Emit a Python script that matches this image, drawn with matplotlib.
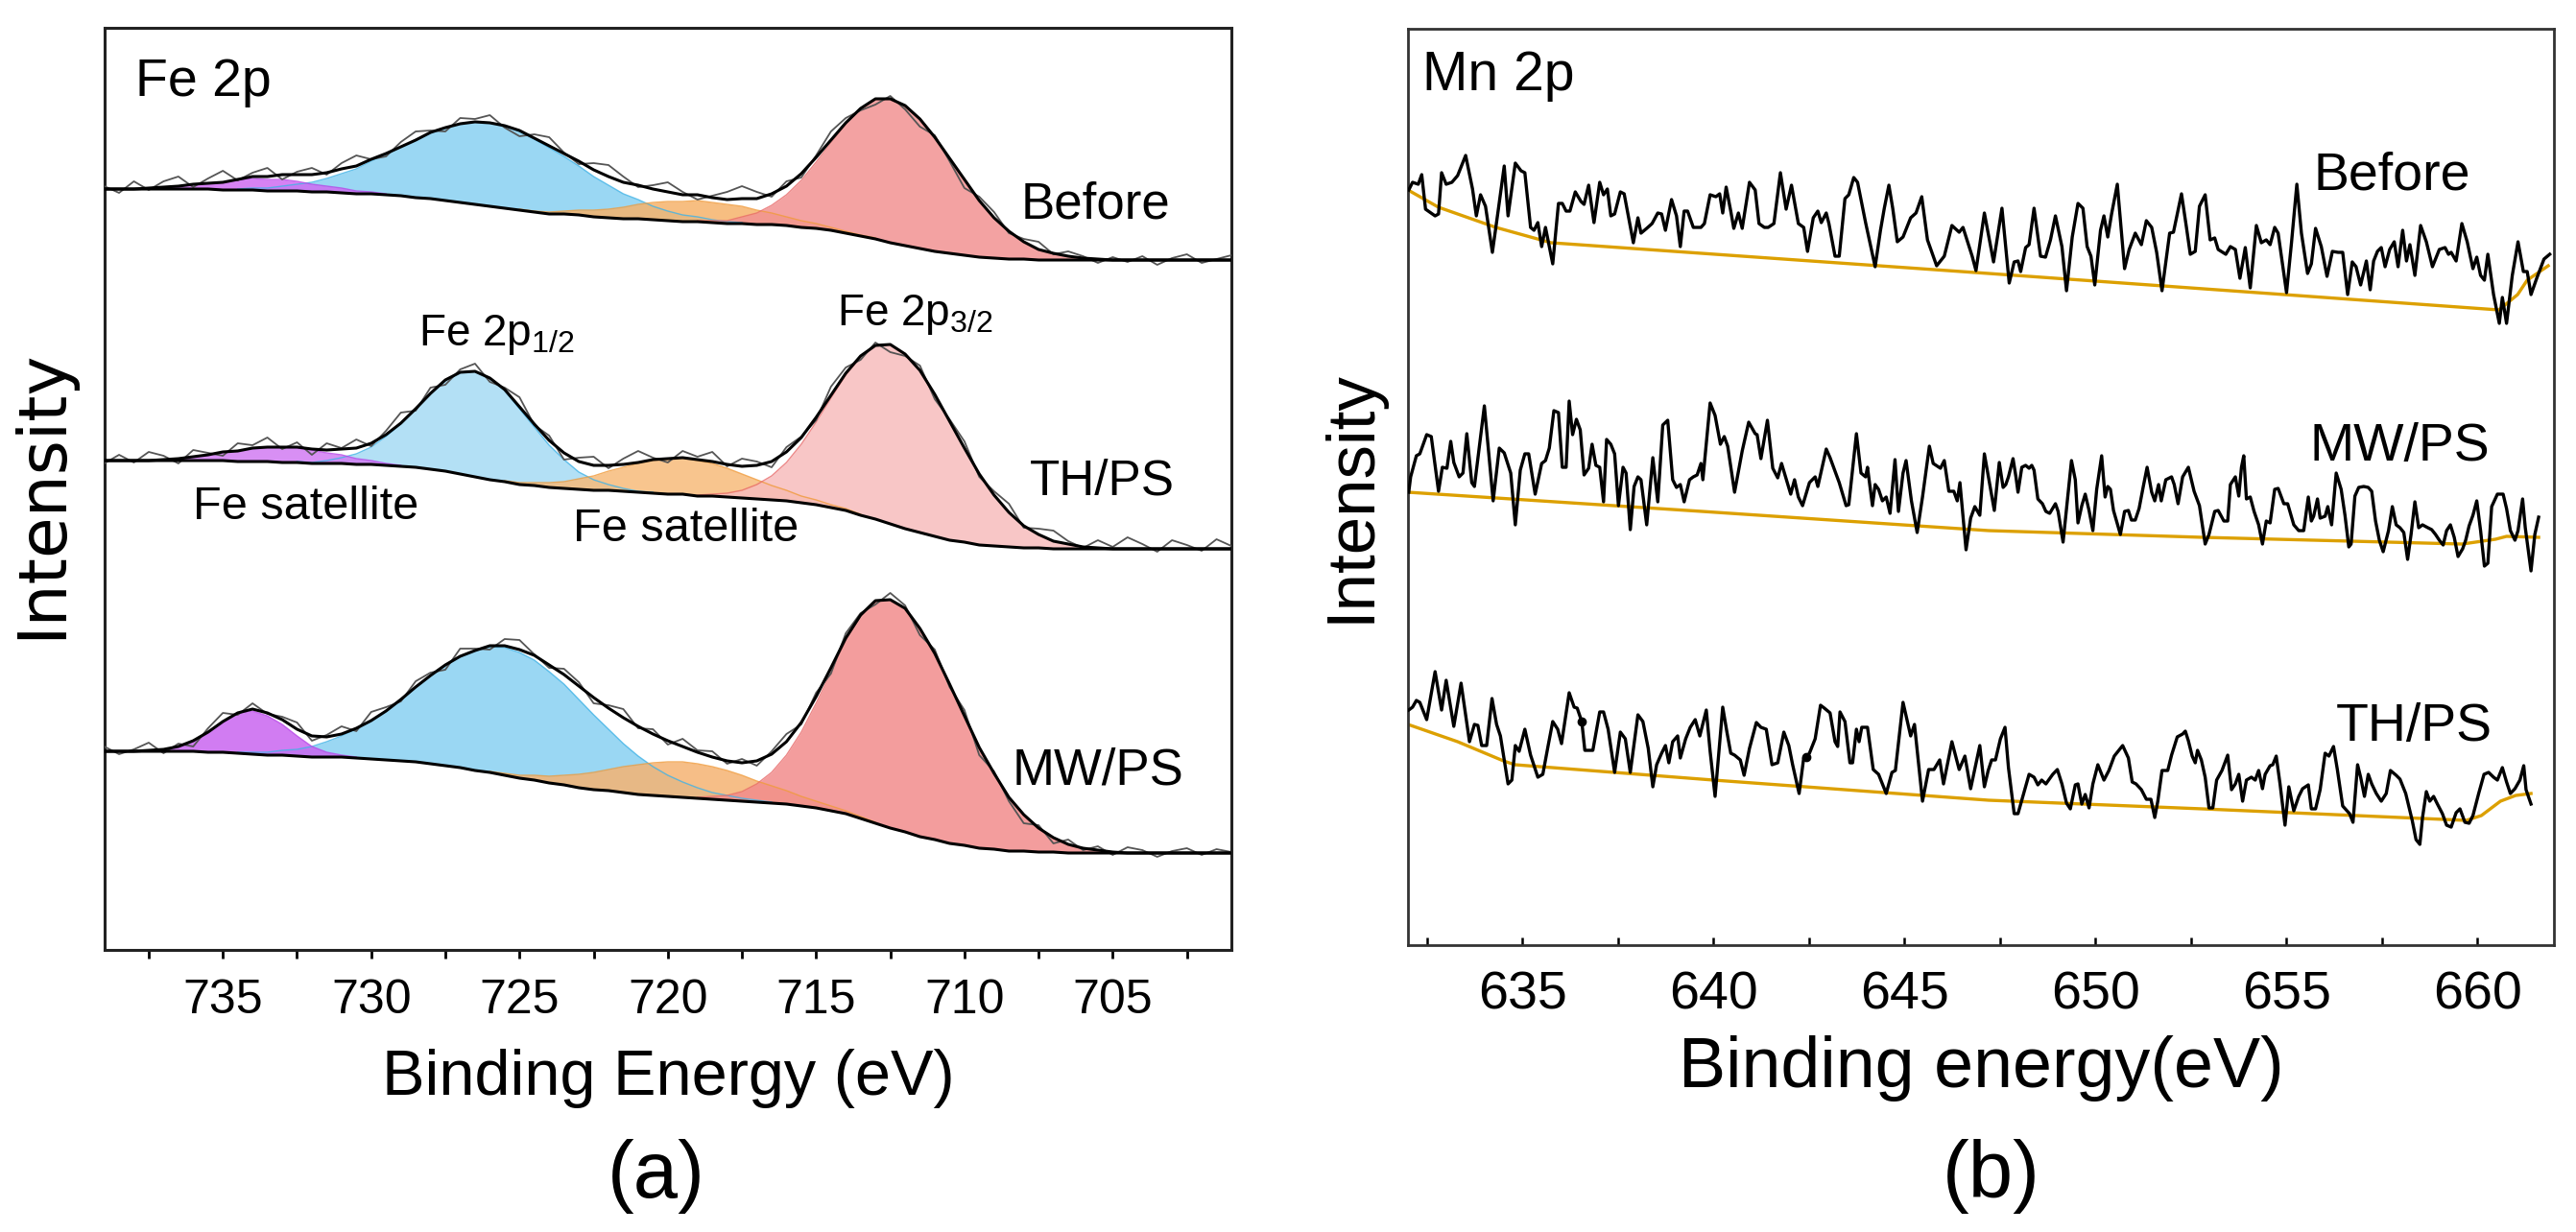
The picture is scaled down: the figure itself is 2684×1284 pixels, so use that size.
import matplotlib.pyplot as plt
import numpy as np

plt.rcParams['font.family'] = ['Liberation Sans', 'DejaVu Sans']
plt.rcParams['mathtext.default'] = 'regular'

W, H = 2684, 1284

# ---------------- panel (a): Fe 2p, values every 0.5 eV from 739 to 701 eV
fe_start, fe_step, fe_n = 739.0, 0.5, 77

# Shirley backgrounds (739 -> 701 eV)
before_bg = [793, 793, 793, 793, 793, 793, 793, 793, 792, 792,
             792, 791, 791, 791, 790, 790, 789, 788, 788, 787,
             786, 784, 783, 781, 779, 777, 775, 773, 771, 769,
             767, 767, 766, 764, 763, 762, 762, 761, 760, 759,
             759, 758, 757, 757, 756, 756, 755, 753, 752, 750,
             747, 744, 741, 737, 734, 731, 728, 726, 724, 722,
             721, 720, 720, 719, 719, 719, 719, 719, 719, 719,
             719, 719, 719, 719, 719, 719, 719]
th_bg = [510, 510, 510, 510, 510, 510, 510, 510, 510, 509,
         509, 509, 508, 508, 507, 507, 507, 506, 506, 505,
         504, 503, 501, 499, 496, 493, 490, 488, 485, 484,
         482, 481, 480, 479, 479, 478, 477, 476, 475, 475,
         473, 473, 472, 471, 470, 469, 468, 466, 464, 461,
         458, 453, 449, 444, 439, 435, 431, 427, 425, 422,
         421, 420, 419, 419, 418, 418, 418, 418, 418, 418,
         418, 418, 418, 418, 418, 418, 418]
mw_bg = [207, 207, 207, 207, 207, 207, 207, 206, 206, 205,
         204, 203, 203, 202, 201, 201, 201, 200, 199, 198,
         197, 196, 194, 192, 190, 187, 185, 182, 179, 177,
         174, 172, 169, 167, 166, 164, 162, 161, 160, 159,
         158, 157, 156, 155, 154, 153, 152, 150, 148, 145,
         142, 137, 132, 127, 123, 118, 115, 111, 109, 106,
         105, 103, 103, 102, 102, 101, 101, 101, 101, 101,
         101, 101, 101, 101, 101, 101, 101]

# fitted components above background: (first energy, heights every 0.5 eV downwards)
before_sat1 = (737.5, [1, 2, 3, 5, 6, 8, 10, 12, 12, 12, 10, 8, 6, 5, 3, 2, 1])
before_p12 = (734.5, [1, 2, 3, 5, 7, 10, 14, 20, 26, 34, 42, 51, 60, 69, 76, 82, 86, 87,
                      86, 82, 76, 69, 60, 51, 42, 34, 26, 20, 14, 10, 7, 5, 3, 2, 1])
before_sat2 = (725.0, [1, 1, 2, 3, 5, 7, 9, 12, 15, 18, 20, 21, 22, 21, 20, 18, 15, 12,
                       9, 7, 5, 3, 2, 1, 1])
before_p32 = (719.0, [1, 2, 3, 7, 12, 20, 32, 49, 69, 91, 113, 132, 145, 150, 146, 135,
                      119, 99, 79, 59, 42, 29, 18, 11, 7, 4, 2, 1])

th_sat1 = (737.0, [1, 2, 4, 6, 9, 11, 14, 15, 16, 15, 14, 11, 9, 6, 4, 2, 1])
th_p12 = (732.5, [1, 1, 3, 6, 11, 18, 30, 44, 61, 79, 95, 106, 110, 106, 95, 79, 61, 44,
                  30, 18, 11, 6, 3, 1, 1])
th_sat2 = (725.5, [1, 2, 3, 5, 7, 11, 15, 20, 25, 30, 34, 37, 38, 37, 34, 30, 25, 20, 15,
                   11, 7, 5, 3, 2, 1])
th_p32 = (719.0, [1, 2, 4, 8, 15, 25, 40, 61, 86, 114, 141, 165, 181, 187, 182, 169, 148,
                  124, 98, 74, 53, 36, 23, 14, 8, 5, 2, 1])

mw_sat1 = (737.5, [1, 2, 5, 11, 21, 32, 41, 45, 41, 32, 21, 11, 5, 2, 1])
mw_p12 = (734.5, [1, 2, 3, 5, 7, 11, 16, 22, 30, 40, 51, 64, 78, 92, 105, 116, 125, 131,
                  133, 131, 125, 116, 105, 92, 78, 64, 51, 40, 30, 22, 16, 11, 7, 5, 3, 2, 1])
mw_sat2 = (726.0, [1, 2, 3, 5, 7, 10, 14, 18, 22, 27, 31, 34, 36, 37, 36, 34, 31, 27, 22,
                   18, 14, 10, 7, 5, 3, 2, 1])
mw_p32 = (719.0, [1, 3, 5, 10, 19, 32, 51, 77, 109, 144, 180, 210, 231, 238, 233, 217, 194,
                  166, 135, 105, 79, 56, 38, 25, 15, 9, 5, 3, 1])

# raw counts minus fit envelope (739 -> 701 eV)
before_resid = [3, -4, 8, -2, 6, 10, -3, 5, 12, -1, 4, 9, -5, 3, 7, -2, 6, 11, 0, -3,
                5, 9, 2, -4, 6, 3, 8, -2, -6, 4, 9, 1, -3, 7, 12, 6, -2, 4, 10, 3,
                -5, 2, 8, 13, 7, -3, 5, -4, 2, 9, 5, -2, -6, 3, -4, -8, 2, -3, -9, 4,
                6, -2, 3, 8, -1, 5, 2, -4, 3, -2, 4, -5, 2, 6, -3, 1, 5]
th_resid = [-3, 6, -2, 9, 4, -5, 7, 2, -4, 8, 3, 10, -2, 5, -6, 7, 1, 9, -3, 4,
            11, -2, 6, -5, 3, 8, -4, 2, 10, -1, 5, -7, 4, 9, -3, 6, 12, 2, -4, 7,
            3, 10, -2, 8, 4, -6, 5, 1, -3, 9, 6, -4, 3, -8, -2, 5, -5, 2, 7, -3,
            4, 9, -2, 6, 11, 3, -1, 8, 2, 12, 5, -3, 9, 4, -2, 10, 3]
mw_resid = [5, -3, 2, 8, -4, 3, -6, 4, 9, -2, 6, -1, 3, 7, -5, 2, 8, -3, 9, 4,
            -2, 6, 3, -5, 8, 2, -4, 7, 10, 1, -3, 6, 4, -6, 3, 9, -2, 5, -4, 8,
            2, 6, -3, 4, -5, 3, 8, -2, 4, -6, 5, 2, -4, 7, 3, -7, 4, -3, 6, -8,
            2, -4, -9, 3, -6, 5, -2, 4, -3, 6, 3, -4, 2, 5, -2, 4, 1]

# ---------------- panel (b): Mn 2p raw traces (eV, counts) and backgrounds
mn_before = [
    (632.02, 787), (632.12, 795), (632.27, 793), (632.36, 803), (632.46, 767), (632.71, 760),
    (632.80, 762), (632.88, 805), (633.00, 793), (633.15, 795), (633.30, 802), (633.51, 823),
    (633.69, 788), (633.79, 760), (633.90, 782), (634.03, 770), (634.21, 722), (634.37, 768),
    (634.52, 812), (634.62, 760), (634.81, 815), (634.96, 807), (635.06, 805), (635.21, 748),
    (635.30, 745), (635.40, 753), (635.50, 728), (635.60, 748), (635.79, 710), (635.94, 773),
    (636.04, 773), (636.14, 765), (636.24, 765), (636.38, 785), (636.53, 775), (636.61, 772),
    (636.73, 792), (636.87, 753), (637.02, 795), (637.12, 782), (637.22, 788), (637.31, 760),
    (637.41, 762), (637.56, 785), (637.66, 783), (637.90, 732), (638.02, 758), (638.10, 742),
    (638.25, 747), (638.39, 752), (638.54, 763), (638.64, 762), (638.74, 745), (638.90, 777),
    (639.03, 760), (639.13, 728), (639.23, 765), (639.32, 765), (639.47, 748), (639.67, 748),
    (639.76, 752), (639.91, 782), (640.06, 780), (640.16, 783), (640.24, 763), (640.33, 790),
    (640.45, 765), (640.53, 747), (640.65, 763), (640.75, 747), (640.94, 795), (641.09, 787),
    (641.19, 752), (641.33, 748), (641.43, 748), (641.58, 752), (641.75, 805), (641.90, 767),
    (642.04, 792), (642.22, 752), (642.36, 748), (642.46, 723), (642.61, 758), (642.73, 765),
    (642.82, 753), (642.95, 763), (643.02, 752), (643.18, 718), (643.29, 718), (643.44, 778),
    (643.54, 782), (643.67, 800), (643.77, 795), (643.98, 753), (644.23, 707), (644.37, 745),
    (644.47, 768), (644.59, 792), (644.69, 768), (644.81, 733), (644.96, 738), (645.16, 758),
    (645.30, 763), (645.45, 780), (645.60, 735), (645.84, 708), (646.04, 718), (646.24, 750),
    (646.43, 743), (646.53, 748), (646.61, 738), (646.77, 718), (646.87, 703), (647.09, 763),
    (647.33, 712), (647.55, 768), (647.74, 690), (647.87, 712), (647.97, 713), (648.04, 702),
    (648.17, 727), (648.26, 730), (648.39, 768), (648.56, 718), (648.69, 717), (648.82, 735),
    (648.95, 760), (649.12, 728), (649.24, 682), (649.39, 738), (649.54, 773), (649.67, 768),
    (649.78, 728), (649.88, 718), (649.98, 688), (650.13, 745), (650.22, 760), (650.32, 738),
    (650.42, 762), (650.57, 793), (650.76, 705), (650.88, 725), (651.04, 742), (651.20, 730),
    (651.33, 755), (651.47, 748), (651.60, 722), (651.74, 682), (651.94, 742), (652.04, 743),
    (652.25, 783), (652.38, 748), (652.48, 720), (652.61, 723), (652.72, 770), (652.87, 782),
    (653.00, 735), (653.12, 737), (653.21, 725), (653.41, 720), (653.53, 728), (653.66, 725),
    (653.78, 695), (653.92, 727), (654.05, 685), (654.21, 750), (654.34, 732), (654.47, 735),
    (654.57, 730), (654.69, 748), (654.78, 742), (655.00, 680), (655.13, 732), (655.27, 793),
    (655.39, 742), (655.55, 700), (655.65, 710), (655.76, 747), (655.91, 728), (656.06, 697),
    (656.20, 723), (656.35, 722), (656.47, 722), (656.60, 678), (656.72, 712), (656.82, 707),
    (656.94, 688), (657.09, 713), (657.19, 683), (657.28, 713), (657.38, 723), (657.48, 727),
    (657.58, 707), (657.70, 725), (657.82, 733), (657.92, 707), (658.04, 745), (658.14, 713),
    (658.23, 730), (658.36, 698), (658.51, 750), (658.66, 733), (658.82, 707), (659.00, 725),
    (659.15, 727), (659.24, 720), (659.31, 722), (659.44, 713), (659.59, 752), (659.73, 733),
    (659.88, 705), (659.98, 717), (660.08, 698), (660.18, 693), (660.27, 720), (660.42, 678),
    (660.57, 648), (660.65, 675), (660.76, 648), (660.91, 698), (661.06, 733), (661.20, 702),
    (661.30, 702), (661.40, 678), (661.55, 695), (661.74, 715), (661.89, 720)]
mn_before_bg = [(632.0, 787), (632.8, 769), (634.3, 748), (635.75, 732), (647.2, 700),
                (660.56, 662), (661.05, 678), (661.3, 693), (661.85, 708)]

mn_mw = [
    (632.02, 472), (632.07, 488), (632.22, 510), (632.31, 512), (632.49, 532), (632.61, 530),
    (632.80, 473), (632.90, 498), (633.02, 497), (633.12, 525), (633.20, 503), (633.34, 488),
    (633.44, 492), (633.54, 533), (633.67, 482), (633.74, 478), (634.00, 562), (634.23, 463),
    (634.39, 518), (634.52, 513), (634.69, 492), (634.81, 438), (634.94, 495), (635.06, 512),
    (635.16, 512), (635.33, 470), (635.50, 502), (635.60, 505), (635.70, 518), (635.82, 557),
    (635.94, 555), (636.04, 498), (636.14, 498), (636.22, 567), (636.31, 532), (636.41, 548),
    (636.51, 537), (636.61, 490), (636.73, 497), (636.82, 522), (636.92, 500), (637.02, 498),
    (637.12, 462), (637.20, 527), (637.31, 522), (637.41, 512), (637.51, 458), (637.63, 498),
    (637.71, 492), (637.82, 433), (637.92, 478), (638.02, 488), (638.10, 485), (638.25, 438),
    (638.41, 508), (638.54, 462), (638.67, 542), (638.80, 547), (638.93, 485), (639.03, 477),
    (639.13, 480), (639.23, 462), (639.37, 485), (639.47, 488), (639.57, 490), (639.67, 502),
    (639.72, 485), (639.91, 565), (640.04, 552), (640.18, 522), (640.28, 530), (640.37, 520),
    (640.55, 472), (640.75, 515), (640.92, 545), (641.09, 533), (641.14, 532), (641.24, 507),
    (641.41, 547), (641.55, 497), (641.68, 487), (641.78, 502), (641.87, 490), (642.02, 470),
    (642.12, 485), (642.22, 467), (642.33, 458), (642.51, 482), (642.66, 488), (642.73, 478),
    (642.95, 517), (643.05, 508), (643.29, 482), (643.47, 458), (643.54, 459), (643.74, 533),
    (643.86, 492), (643.98, 488), (644.03, 498), (644.16, 458), (644.23, 480), (644.32, 475),
    (644.42, 463), (644.52, 467), (644.62, 450), (644.75, 506), (644.84, 452), (644.96, 492),
    (645.04, 505), (645.18, 463), (645.33, 430), (645.47, 467), (645.65, 520), (645.75, 502),
    (645.94, 497), (646.04, 505), (646.16, 473), (646.29, 473), (646.38, 463), (646.45, 482),
    (646.61, 412), (646.73, 445), (646.84, 457), (646.97, 448), (647.09, 512), (647.21, 485),
    (647.35, 453), (647.48, 503), (647.58, 477), (647.65, 480), (647.72, 488), (647.84, 507),
    (647.92, 487), (647.97, 472), (648.07, 498), (648.17, 500), (648.26, 497), (648.33, 500),
    (648.39, 495), (648.49, 465), (648.61, 460), (648.70, 452), (648.80, 450), (648.95, 460),
    (649.02, 452), (649.15, 420), (649.24, 455), (649.37, 505), (649.47, 485), (649.54, 440),
    (649.64, 458), (649.73, 470), (649.83, 453), (649.93, 432), (650.03, 475), (650.16, 510),
    (650.25, 467), (650.32, 478), (650.39, 475), (650.47, 453), (650.65, 428), (650.76, 452),
    (650.86, 453), (650.94, 443), (651.04, 443), (651.14, 455), (651.25, 478), (651.35, 498),
    (651.47, 472), (651.55, 463), (651.65, 480), (651.72, 463), (651.84, 485), (651.99, 488),
    (652.06, 480), (652.16, 460), (652.28, 488), (652.43, 498), (652.58, 473), (652.72, 458),
    (652.87, 418), (652.97, 428), (653.12, 452), (653.21, 453), (653.36, 442), (653.46, 442),
    (653.53, 480), (653.66, 488), (653.75, 468), (653.82, 498), (653.88, 510), (653.95, 465),
    (654.05, 467), (654.15, 452), (654.27, 438), (654.37, 418), (654.47, 442), (654.57, 440),
    (654.69, 475), (654.78, 476), (654.93, 460), (655.03, 460), (655.08, 453), (655.19, 438),
    (655.32, 432), (655.45, 432), (655.57, 467), (655.65, 442), (655.71, 447), (655.81, 465),
    (655.88, 445), (656.01, 447), (656.08, 457), (656.18, 438), (656.30, 492), (656.43, 475),
    (656.53, 448), (656.63, 415), (656.69, 418), (656.79, 468), (656.89, 477), (657.02, 478),
    (657.14, 477), (657.23, 473), (657.33, 442), (657.43, 422), (657.53, 410), (657.67, 432),
    (657.77, 457), (657.87, 438), (657.97, 435), (658.07, 430), (658.17, 402), (658.26, 428),
    (658.36, 462), (658.46, 435), (658.56, 438), (658.70, 435), (658.80, 433), (658.90, 428),
    (659.00, 422), (659.10, 417), (659.19, 432), (659.29, 438), (659.39, 425), (659.49, 405),
    (659.61, 413), (659.69, 422), (659.78, 437), (659.88, 448), (659.98, 463), (660.08, 432),
    (660.18, 395), (660.27, 398), (660.37, 457), (660.52, 470), (660.67, 470), (660.76, 455),
    (660.86, 432), (660.98, 422), (661.06, 432), (661.18, 465), (661.25, 435), (661.40, 390),
    (661.50, 428), (661.60, 446)]
mn_mw_bg = [(632.0, 472), (639.7, 452), (647.2, 432), (652.8, 425), (659.6, 418),
            (660.47, 423), (660.76, 426), (661.6, 425)]

mn_th = [
    (632.02, 245), (632.12, 248), (632.22, 255), (632.31, 253), (632.49, 235), (632.71, 285),
    (632.88, 245), (633.00, 276), (633.20, 228), (633.39, 273), (633.61, 212), (633.74, 230),
    (633.83, 229), (633.93, 208), (634.06, 208), (634.20, 257), (634.32, 230), (634.42, 218),
    (634.62, 168), (634.72, 172), (634.81, 208), (634.91, 202), (635.06, 225), (635.21, 198),
    (635.40, 175), (635.53, 178), (635.67, 208), (635.79, 233), (635.92, 225), (636.02, 210),
    (636.22, 263), (636.35, 248), (636.43, 247), (636.55, 233), (636.63, 203), (636.84, 203),
    (637.02, 243), (637.12, 243), (637.24, 225), (637.41, 180), (637.56, 222), (637.69, 215),
    (637.82, 180), (638.02, 240), (638.15, 233), (638.29, 205), (638.41, 165), (638.51, 188),
    (638.64, 200), (638.74, 208), (638.83, 190), (638.93, 212), (639.06, 218), (639.13, 195),
    (639.27, 215), (639.39, 227), (639.52, 235), (639.64, 218), (639.81, 245), (639.91, 202),
    (640.04, 155), (640.24, 248), (640.35, 222), (640.45, 200), (640.55, 198), (640.70, 193),
    (640.80, 177), (640.94, 205), (641.12, 232), (641.24, 227), (641.38, 225), (641.53, 188),
    (641.68, 190), (641.84, 222), (641.97, 208), (642.07, 188), (642.24, 158), (642.36, 195),
    (642.43, 196), (642.51, 200), (642.66, 215), (642.80, 250), (642.90, 247), (643.05, 242),
    (643.18, 212), (643.25, 207), (643.31, 243), (643.44, 233), (643.57, 190), (643.64, 190),
    (643.74, 225), (643.81, 212), (643.88, 227), (644.03, 227), (644.18, 183), (644.32, 178),
    (644.52, 158), (644.67, 180), (644.76, 182), (644.96, 253), (645.16, 218), (645.26, 230),
    (645.47, 150), (645.63, 183), (645.77, 183), (645.92, 193), (646.02, 168), (646.24, 212),
    (646.43, 183), (646.58, 197), (646.73, 163), (646.97, 208), (647.09, 165), (647.19, 182),
    (647.28, 193), (647.38, 193), (647.51, 215), (647.63, 227), (647.72, 185), (647.87, 137),
    (647.97, 137), (648.12, 158), (648.26, 178), (648.39, 175), (648.49, 167), (648.59, 172),
    (648.70, 168), (648.88, 178), (649.00, 183), (649.12, 168), (649.24, 148), (649.34, 142),
    (649.47, 167), (649.54, 168), (649.64, 147), (649.73, 157), (649.83, 143), (649.93, 168),
    (650.06, 188), (650.22, 172), (650.35, 182), (650.49, 197), (650.59, 202), (650.71, 208),
    (650.86, 195), (650.96, 170), (651.06, 168), (651.20, 162), (651.33, 152), (651.45, 152),
    (651.55, 133), (651.63, 150), (651.74, 182), (651.89, 182), (651.99, 198), (652.14, 217),
    (652.28, 220), (652.35, 223), (652.43, 213), (652.53, 197), (652.61, 190), (652.67, 203),
    (652.77, 193), (652.87, 175), (652.97, 143), (653.07, 143), (653.17, 172), (653.31, 182),
    (653.46, 198), (653.56, 162), (653.66, 168), (653.75, 178), (653.85, 150), (653.95, 172),
    (654.08, 175), (654.18, 172), (654.27, 182), (654.37, 163), (654.44, 178), (654.57, 187),
    (654.64, 188), (654.73, 197), (654.83, 168), (654.96, 125), (655.06, 165), (655.19, 140),
    (655.32, 155), (655.42, 163), (655.57, 167), (655.65, 142), (655.76, 142), (655.88, 162),
    (656.01, 200), (656.11, 197), (656.23, 207), (656.33, 183), (656.47, 145), (656.65, 137),
    (656.74, 128), (656.86, 188), (656.94, 175), (657.04, 155), (657.14, 178), (657.23, 168),
    (657.35, 158), (657.48, 150), (657.61, 158), (657.72, 182), (657.87, 177), (657.97, 173),
    (658.12, 158), (658.29, 130), (658.39, 110), (658.49, 105), (658.56, 133), (658.66, 160),
    (658.75, 150), (658.85, 155), (658.95, 147), (659.08, 137), (659.19, 125), (659.31, 123),
    (659.44, 138), (659.54, 142), (659.67, 128), (659.78, 127), (659.88, 135), (660.03, 158),
    (660.17, 178), (660.29, 180), (660.42, 175), (660.52, 172), (660.65, 185), (660.76, 170),
    (660.86, 158), (660.98, 163), (661.11, 172), (661.21, 187), (661.27, 162), (661.40, 147)]
mn_th_bg = [(632.0, 230), (633.3, 212), (634.5, 192), (634.8, 188), (640.0, 172),
            (647.2, 151), (652.8, 142), (659.7, 130), (660.1, 135), (660.6, 150),
            (661.0, 156), (661.4, 158)]
mn_th_dots = [(636.55, 233), (642.43, 196)]


def px(x, y):
    return x / W, 1 - y / H


def on_grid(comp):
    start, vals = comp
    full = np.zeros(fe_n)
    i0 = int(round((fe_start - start) / fe_step))
    full[i0:i0 + len(vals)] = vals
    return full


fe_energy = fe_start - fe_step * np.arange(fe_n)

spectra = [
    dict(bg=before_bg, comps=[before_p12, before_sat1, before_sat2, before_p32], resid=before_resid,
         colors=['#88d0f1', '#cf6cf2', '#f6b36b', '#f29292']),
    dict(bg=th_bg, comps=[th_p12, th_sat1, th_sat2, th_p32], resid=th_resid,
         colors=['#a6dbf4', '#d27cf3', '#f7bb7a', '#f7bcbc']),
    dict(bg=mw_bg, comps=[mw_p12, mw_sat1, mw_sat2, mw_p32], resid=mw_resid,
         colors=['#88d0f1', '#c965f0', '#f5b372', '#f28c8c']),
]
edge_colors = ['#3fb2e6', '#b845e8', '#f09a3a', '#e86a6a']

fig = plt.figure(figsize=(W / 100, H / 100), dpi=100)
ax_a = fig.add_axes([108.6 / W, 1 - 990 / H, (1283 - 108.6) / W, (990 - 29) / H])
ax_b = fig.add_axes([1467 / W, 1 - 985 / H, (2661 - 1467) / W, (985 - 30) / H])

# ---- panel (a)
for sp in spectra:
    bg = np.array(sp['bg'], dtype=float)
    env = bg.copy()
    for comp, col, ecol in zip(sp['comps'], sp['colors'], edge_colors):
        h = on_grid(comp)
        env += h
        ax_a.fill_between(fe_energy, bg, bg + h, color=col, alpha=0.85, lw=0, zorder=2)
        m = h > 0
        ax_a.plot(fe_energy[m], (bg + h)[m], color=ecol, lw=1.0, alpha=0.8, zorder=2.5)
    raw = env + np.array(sp['resid'])
    ax_a.plot(fe_energy, raw, color='#555555', lw=1.3, zorder=3)
    ax_a.plot(fe_energy, env, color='black', lw=2.2, zorder=4)
    ax_a.plot(fe_energy, bg, color='black', lw=2.2, zorder=4)

ax_a.set_xlim(739, 701)
ax_a.set_ylim(0, 961)
ax_a.set_yticks([])
ax_a.set_xticks([735, 730, 725, 720, 715, 710, 705])
ax_a.set_xticks([737.5, 732.5, 727.5, 722.5, 717.5, 712.5, 707.5, 702.5], minor=True)
ax_a.tick_params(axis='x', which='both', direction='out', length=6.5, width=2,
                 labelsize=36, pad=15)
for s in ax_a.spines.values():
    s.set_linewidth(2.2)
    s.set_color('#222222')

ax_a.text(737.95, 890, 'Fe 2p', fontsize=40, ha='left', va='baseline')
ax_a.text(708.1, 762, 'Before', fontsize=38, ha='left', va='baseline')
ax_a.text(707.8, 474, 'TH/PS', fontsize=37, ha='left', va='baseline')
ax_a.text(708.4, 172, 'MW/PS', fontsize=38, ha='left', va='baseline')
ax_a.text(728.4, 630, 'Fe 2p$_{1/2}$', fontsize=33, ha='left', va='baseline')
ax_a.text(714.3, 651, 'Fe 2p$_{3/2}$', fontsize=33, ha='left', va='baseline')
ax_a.text(736.0, 449, 'Fe satellite', fontsize=35, ha='left', va='baseline')
ax_a.text(723.2, 426, 'Fe satellite', fontsize=35, ha='left', va='baseline')

# ---- panel (b)
for trace, base in [(mn_before, mn_before_bg), (mn_mw, mn_mw_bg), (mn_th, mn_th_bg)]:
    e, c = zip(*trace)
    ax_b.plot(e, c, color='black', lw=2.4, zorder=3)
    be, bc = zip(*base)
    ax_b.plot(be, bc, color='#dca000', lw=2.4, zorder=2)
de, dc = zip(*mn_th_dots)
ax_b.plot(de, dc, 'o', color='black', ms=6, zorder=4)

ax_b.set_xlim(632, 662)
ax_b.set_ylim(0, 955)
ax_b.set_yticks([])
ax_b.set_xticks([635, 640, 645, 650, 655, 660])
ax_b.set_xticks([632.5, 637.5, 642.5, 647.5, 652.5, 657.5], minor=True)
ax_b.tick_params(axis='x', which='both', direction='in', length=5.5, width=1.8,
                 labelsize=40, pad=19)
for s in ax_b.spines.values():
    s.set_linewidth(2.0)
    s.set_color('#333333')

ax_b.text(632.38, 891, 'Mn 2p', fontsize=41, ha='left', va='baseline')
ax_b.text(655.7, 787, 'Before', fontsize=40, ha='left', va='baseline')
ax_b.text(655.6, 505, 'MW/PS', fontsize=40, ha='left', va='baseline')
ax_b.text(656.3, 213, 'TH/PS', fontsize=40, ha='left', va='baseline')

# ---- axis titles and panel letters
fig.text(*px(44, 515), 'Intensity', rotation=90, ha='center', va='center',
         fontsize=50, family=['DejaVu Sans'])
fig.text(*px(1409, 517), 'Intensity', rotation=90, ha='center', va='center', fontsize=51)
fig.text(*px(696, 1141), 'Binding Energy (eV)', ha='center', va='baseline', fontsize=48)
fig.text(*px(2064, 1133), 'Binding energy(eV)', ha='center', va='baseline', fontsize=53)
fig.text(*px(684, 1226), '(a)', ha='center', va='center', fontsize=60)
fig.text(*px(2075, 1226), '(b)', ha='center', va='center', fontsize=60)

fig.savefig('out.png', dpi=100)
